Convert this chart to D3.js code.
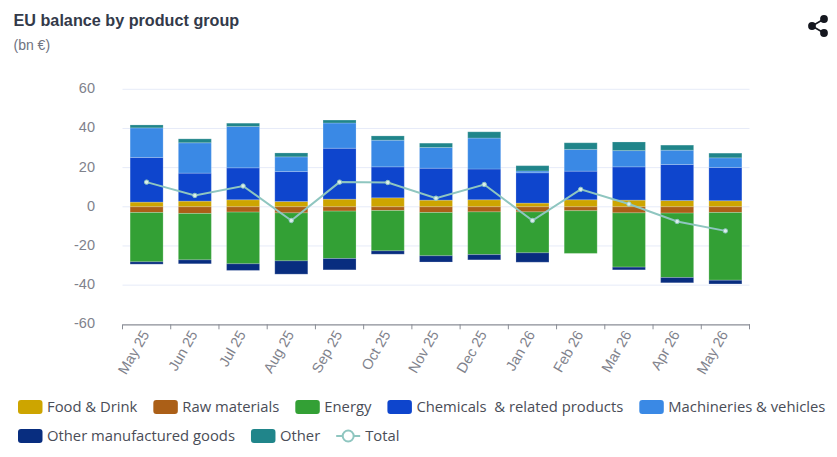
<!DOCTYPE html>
<html>
<head>
<meta charset="utf-8">
<script src="https://cdn.jsdelivr.net/npm/d3@7/dist/d3.min.js"></script>
<style>
body { margin: 0; background: #fff; }
svg { display: block; }
</style>
</head>
<body>
<div id="chart"></div>
<script>
var months = ["May 25", "Jun 25", "Jul 25", "Aug 25", "Sep 25", "Oct 25", "Nov 25", "Dec 25", "Jan 26", "Feb 26", "Mar 26", "Apr 26", "May 26"];

var foodDrink = [2.4, 2.9, 3.6, 2.7, 3.9, 4.6, 3.4, 3.6, 1.9, 3.6, 3.4, 3.2, 3.1];
var rawMaterials = [-2.9, -3.4, -2.7, -3.1, -2.2, -1.9, -2.9, -2.6, -2.6, -2.0, -3.1, -3.2, -2.9];
var energy = [-25.2, -23.7, -26.4, -24.5, -24.2, -20.6, -22.1, -21.8, -20.9, -21.8, -27.7, -32.9, -34.6];
var chemicals = [22.8, 14.3, 16.3, 15.3, 26.0, 15.8, 16.3, 15.7, 15.5, 14.6, 17.0, 18.4, 17.0];
var machineries = [15.1, 15.5, 21.1, 7.5, 12.9, 13.6, 10.6, 15.8, 0.9, 11.1, 8.3, 7.3, 4.9];
var otherManufactured = [-1.2, -2.0, -3.4, -6.8, -5.8, -1.7, -3.2, -2.7, -4.8, 0, -1.4, -2.7, -1.9];
var other = [1.5, 2.0, 1.7, 2.0, 1.5, 2.2, 2.2, 3.2, 2.7, 3.4, 4.4, 2.6, 2.4];
var total = [12.6, 5.8, 10.6, -7.0, 12.6, 12.4, 4.4, 11.4, -7.0, 8.9, 1.4, -7.5, -12.3];

var yTicks = [60, 40, 20, 0, -20, -40, -60];

var barSeries = [
    { name: "Food & Drink", values: foodDrink, color: "#cda500" },
    { name: "Raw materials", values: rawMaterials, color: "#ab5f17" },
    { name: "Energy", values: energy, color: "#33a035" },
    { name: "Chemicals  & related products", values: chemicals, color: "#0e45cd" },
    { name: "Machineries & vehicles", values: machineries, color: "#3a89e5" },
    { name: "Other manufactured goods", values: otherManufactured, color: "#082d7f" },
    { name: "Other", values: other, color: "#20858a" }
];
var lineColor = "#8fc6c0";

var width = 837, height = 457;
var svg = d3.select("#chart").append("svg")
    .attr("width", width)
    .attr("height", height);

var textFont = "Liberation Sans, Arial, sans-serif";
var legendFont = "Open Sans, sans-serif";

svg.append("text")
    .text("EU balance by product group")
    .attr("x", 13.5)
    .attr("y", 26)
    .attr("font-family", textFont)
    .attr("font-weight", "bold")
    .attr("font-size", 16.2)
    .attr("fill", "#333a4a");
svg.append("text")
    .text("(bn €)")
    .attr("x", 13.5)
    .attr("y", 50)
    .attr("font-family", textFont)
    .attr("font-size", 14)
    .attr("fill", "#6f7380");

var x = d3.scaleBand().domain(months).range([122.5, 749.5]);
var y = d3.scaleLinear().domain([-60, 60]).range([324.3, 89.3]);
var barW = 33;

// grid
svg.append("g").selectAll("line")
    .data(yTicks.filter(function (d) { return d != -60; }))
    .enter().append("line")
    .attr("x1", x.range()[0])
    .attr("x2", x.range()[1])
    .attr("y1", function (d) { return y(d); })
    .attr("y2", function (d) { return y(d); })
    .attr("stroke", "#e6ebf8")
    .attr("stroke-width", 1);

// y labels
svg.append("g").selectAll("text")
    .data(yTicks)
    .enter().append("text")
    .text(function (d) { return d; })
    .attr("x", 95)
    .attr("y", function (d) { return y(d) + 4; })
    .attr("text-anchor", "end")
    .attr("font-family", textFont)
    .attr("font-size", 14.5)
    .attr("fill", "#7f828c");

// stacked bars, positive and negative piles apart
var posBase = months.map(function () { return 0; });
var negBase = months.map(function () { return 0; });
barSeries.forEach(function (s) {
    var rows = s.values.map(function (v, i) {
        var start = v >= 0 ? posBase[i] : negBase[i];
        var end = start + v;
        if (v >= 0) posBase[i] = end; else negBase[i] = end;
        return { month: months[i], start: start, end: end, v: v };
    });
    svg.append("g").selectAll("rect")
        .data(rows.filter(function (d) { return d.v != 0; }))
        .enter().append("rect")
        .attr("x", function (d) { return x(d.month) + (x.bandwidth() - barW) / 2; })
        .attr("width", barW)
        .attr("y", function (d) { return Math.min(y(d.start), y(d.end)); })
        .attr("height", function (d) { return Math.abs(y(d.start) - y(d.end)); })
        .attr("fill", s.color)
        .attr("stroke", "#ffffff")
        .attr("stroke-opacity", 0.2)
        .attr("stroke-width", 1);
});

// x axis
var xAxis = svg.append("g")
    .attr("transform", "translate(0," + y(-60) + ")")
    .call(d3.axisBottom(x).tickSize(0).tickPadding(9));
xAxis.select(".domain").attr("stroke", "#8a8d96").attr("stroke-width", 1.2);
xAxis.selectAll("text")
    .attr("font-family", textFont)
    .attr("font-size", 14.5)
    .attr("fill", "#7f828c")
    .attr("text-anchor", "end")
    .attr("dy", "0.35em")
    .attr("transform", function () { return "translate(-9,3) rotate(-60)"; });

svg.append("g").selectAll("line")
    .data(months.concat(["end"]))
    .enter().append("line")
    .attr("x1", function (d, i) { return x.range()[0] + i * x.step(); })
    .attr("x2", function (d, i) { return x.range()[0] + i * x.step(); })
    .attr("y1", y(-60))
    .attr("y2", y(-60) + 5)
    .attr("stroke", "#8a8d96")
    .attr("stroke-width", 1);

// total line
var line = d3.line()
    .x(function (d, i) { return x(months[i]) + x.bandwidth() / 2; })
    .y(function (d) { return y(d); });
svg.append("path")
    .datum(total)
    .attr("d", line)
    .attr("fill", "none")
    .attr("stroke", lineColor)
    .attr("stroke-width", 2);
svg.append("g").selectAll("circle")
    .data(total)
    .enter().append("circle")
    .attr("cx", function (d, i) { return x(months[i]) + x.bandwidth() / 2; })
    .attr("cy", function (d) { return y(d); })
    .attr("r", 2.2)
    .attr("fill", "#dceeeb")
    .attr("stroke", lineColor)
    .attr("stroke-width", 1);

// legend, wraps like the original
var legendItems = barSeries.map(function (s) { return { name: s.name, color: s.color }; });
legendItems.push({ name: "Total", color: lineColor, isLine: true });

var legend = svg.append("g");
var lx = 18, ly = 407;
legendItems.forEach(function (d) {
    var g = legend.append("g");
    var t = g.append("text")
        .text(d.name)
        .attr("x", 29)
        .attr("y", 5)
        .attr("xml:space", "preserve")
        .attr("font-family", legendFont)
        .attr("font-size", 14.8)
        .attr("fill", "#4a4d57");
    var w = 29 + t.node().getComputedTextLength();
    if (lx + w > 830) {
        lx = 18;
        ly += 29;
    }
    g.attr("transform", "translate(" + lx + "," + ly + ")");
    if (d.isLine) {
        g.append("line").attr("x1", 0).attr("x2", 24).attr("y1", 0).attr("y2", 0)
            .attr("stroke", d.color).attr("stroke-width", 2);
        g.append("circle").attr("cx", 12).attr("cy", 0).attr("r", 5.5)
            .attr("fill", "#fff").attr("stroke", d.color).attr("stroke-width", 2);
    } else {
        g.append("rect").attr("x", 0).attr("y", -7).attr("width", 24.5).attr("height", 14)
            .attr("rx", 3).attr("fill", d.color);
    }
    lx += w + 16;
});

// share icon
var share = svg.append("g").attr("fill", "#15171f").attr("stroke", "#15171f");
[[824, 19], [812, 26], [824, 33]].forEach(function (p) {
    share.append("circle").attr("cx", p[0]).attr("cy", p[1]).attr("r", 3.9).attr("stroke", "none");
});
share.append("path")
    .attr("d", "M824,19L812,26L824,33")
    .attr("fill", "none")
    .attr("stroke-width", 1.6);
</script>
</body>
</html>
